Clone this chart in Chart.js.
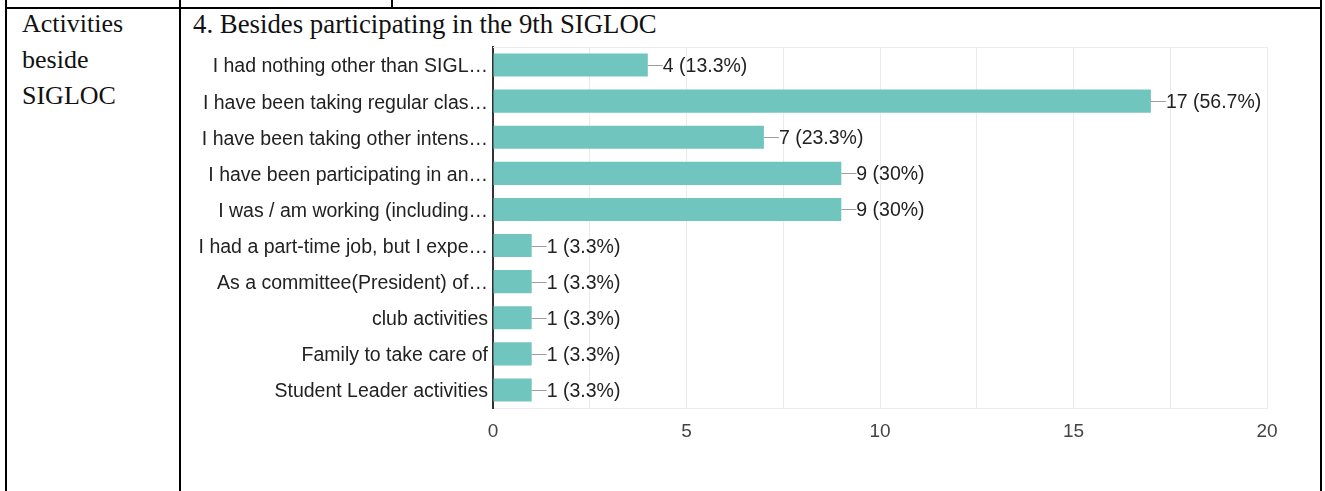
<!DOCTYPE html>
<html>
<head>
<meta charset="utf-8">
<script src="https://cdn.jsdelivr.net/npm/chart.js@4"></script>
<style>
  html, body { margin: 0; padding: 0; background: #fff; }
  body { width: 1325px; height: 491px; position: relative; overflow: hidden; }
  .line { position: absolute; background: #000; }
  .cell-text { position: absolute; font-family: "Liberation Serif", "Times New Roman", serif; font-size: 26px; color: #111; line-height: 36px; }
  #chartBox { position: absolute; left: 182px; top: 40px; width: 1130px; height: 440px; }
</style>
</head>
<body>
  <!-- table frame -->
  <div class="line" style="left:5px; top:0; width:2px; height:491px;"></div>
  <div class="line" style="left:179px; top:0; width:2px; height:491px;"></div>
  <div class="line" style="left:1320px; top:0; width:2px; height:491px;"></div>
  <div class="line" style="left:391px; top:0; width:2px; height:9px;"></div>
  <div class="line" style="left:5px; top:7px; width:1317px; height:2px;"></div>

  <div class="cell-text" style="left:22px; top:6px;">Activities<br>beside<br>SIGLOC</div>
  <div class="cell-text" style="left:193px; top:6px; font-size:26.8px;">4. Besides participating in the 9th SIGLOC</div>

  <div id="chartBox"><canvas id="chart"></canvas></div>

<script>
document.addEventListener('DOMContentLoaded', () => {
    // --- Data ---
    const categories = [
        'I had nothing other than SIGL\u2026',
        'I have been taking regular clas\u2026',
        'I have been taking other intens\u2026',
        'I have been participating in an\u2026',
        'I was / am working (including\u2026',
        'I had a part-time job, but I expe\u2026',
        'As a committee(President) of\u2026',
        'club activities',
        'Family to take care of',
        'Student Leader activities'
    ];
    const counts = [4, 17, 7, 9, 9, 1, 1, 1, 1, 1];
    const percents = ['13.3%', '56.7%', '23.3%', '30%', '30%', '3.3%', '3.3%', '3.3%', '3.3%', '3.3%'];
    const xTicks = [0, 5, 10, 15, 20];

    const barColor = '#71c5bf';
    const gridColor = '#ebebeb';
    const textFont = '"Liberation Sans", Arial, sans-serif';
    const labelSize = 19.5;

    // frame on top / right of the plot area
    const plotFrame = {
        id: 'plotFrame',
        beforeDatasetsDraw(chart) {
            const { ctx, chartArea: a } = chart;
            ctx.save();
            ctx.strokeStyle = gridColor;
            ctx.lineWidth = 1;
            ctx.beginPath();
            ctx.moveTo(a.left, a.top + 0.5);
            ctx.lineTo(a.right + 0.5, a.top + 0.5);
            ctx.lineTo(a.right + 0.5, a.bottom);
            ctx.stroke();
            ctx.restore();
        }
    };

    // value labels with a short leader line
    const valueLabels = {
        id: 'valueLabels',
        afterDatasetsDraw(chart) {
            const { ctx } = chart;
            const meta = chart.getDatasetMeta(0);
            ctx.save();
            ctx.font = labelSize + 'px ' + textFont;
            ctx.textBaseline = 'middle';
            meta.data.forEach((bar, i) => {
                const x = bar.x, y = Math.round(bar.y) + 0.5;
                ctx.strokeStyle = '#9e9e9e';
                ctx.lineWidth = 1;
                ctx.beginPath();
                ctx.moveTo(x, y);
                ctx.lineTo(x + 15, y);
                ctx.stroke();
                ctx.fillStyle = '#222';
                ctx.fillText(`${counts[i]} (${percents[i]})`, x + 15, y + 1.5);
            });
            ctx.restore();
        }
    };

    new Chart(document.getElementById('chart'), {
        type: 'bar',
        data: {
            labels: categories,
            datasets: [{
                data: counts,
                backgroundColor: barColor,
                borderWidth: 0,
                barPercentage: 0.64,
                categoryPercentage: 1
            }]
        },
        options: {
            indexAxis: 'y',
            responsive: true,
            maintainAspectRatio: false,
            animation: false,
            layout: { padding: { top: 7, right: 45 } },
            plugins: {
                legend: { display: false },
                tooltip: { enabled: false }
            },
            scales: {
                x: {
                    min: 0,
                    max: 20,
                    ticks: {
                        stepSize: 2.5,
                        autoSkip: false,
                        maxRotation: 0,
                        padding: 12,
                        color: '#444',
                        font: { family: textFont, size: 19 },
                        callback: v => xTicks.includes(v) ? v : ''
                    },
                    grid: { color: gridColor, drawTicks: false },
                    border: { color: gridColor },
                    afterFit: s => { s.height = 72; s.paddingLeft = 0; s.paddingRight = 0; }
                },
                y: {
                    ticks: {
                        padding: 5,
                        labelOffset: 2,
                        color: '#222',
                        font: { family: textFont, size: labelSize }
                    },
                    grid: { display: false, drawTicks: false },
                    border: { color: '#333', width: 2 },
                    afterFit: s => { s.width = 311; s.paddingTop = 0; s.paddingBottom = 0; }
                }
            }
        },
        plugins: [plotFrame, valueLabels]
    });
});
</script>
</body>
</html>
